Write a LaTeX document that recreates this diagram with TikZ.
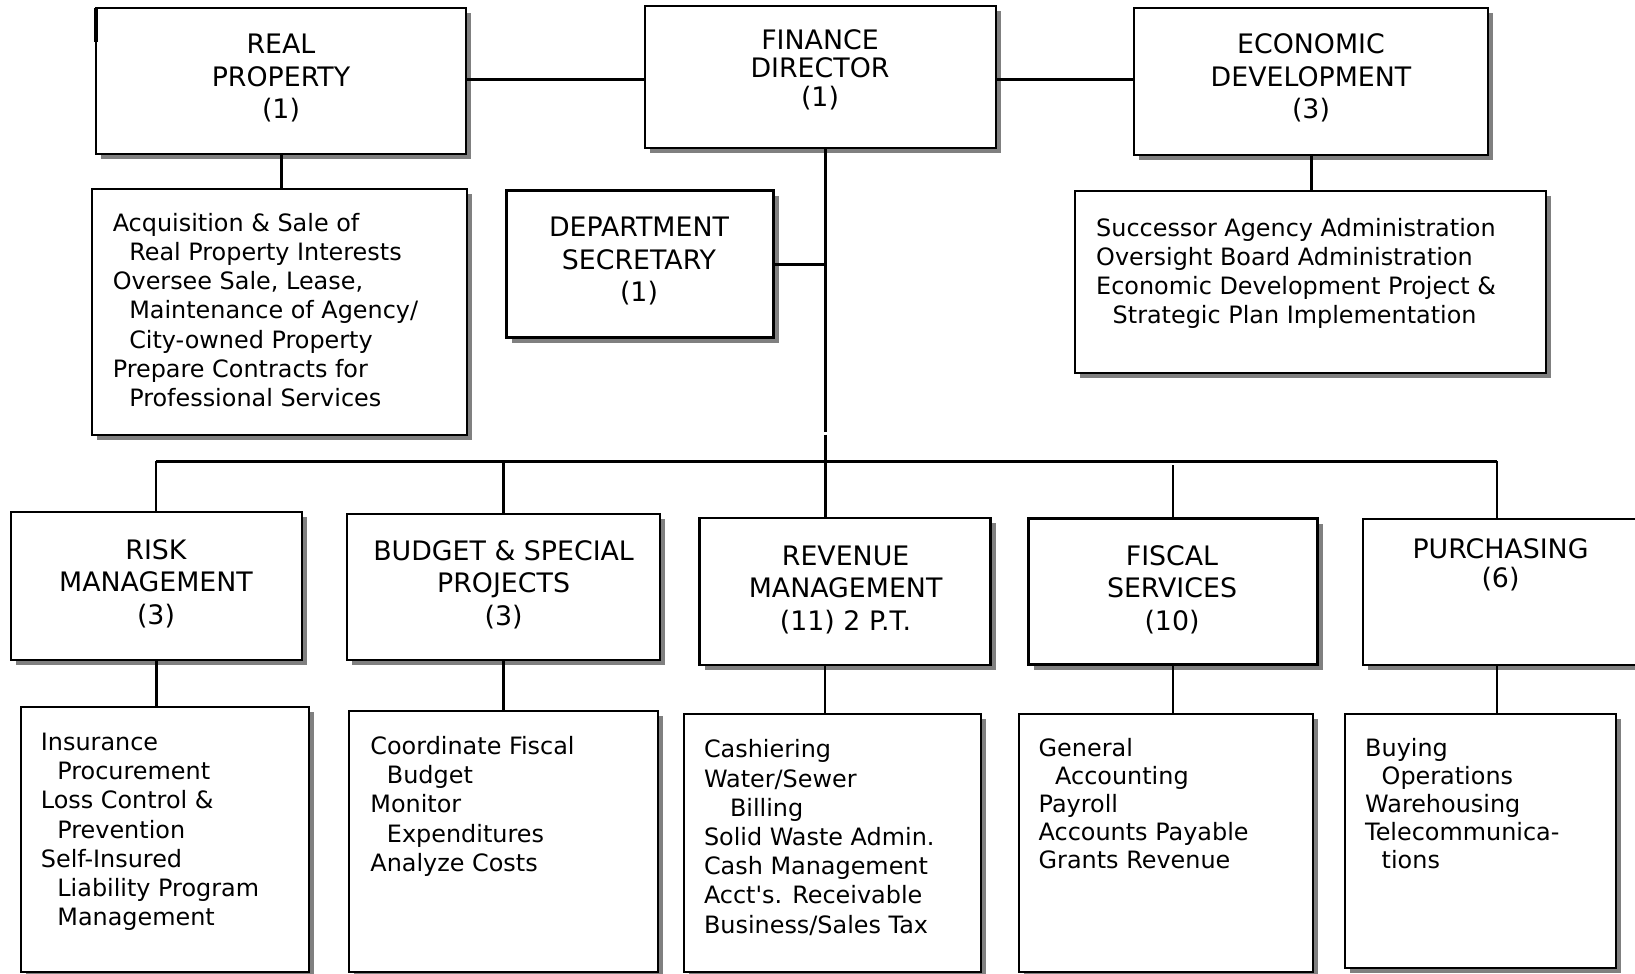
\documentclass[tikz,border=0pt]{standalone}
\usepackage{fontspec}
\setmainfont{DejaVu Sans}[Ligatures=TeXOff]
\usetikzlibrary{shadows}
\newcommand{\sublead}{\hspace*{16.5pt}}
\tikzset{
  box/.style={draw, line width=2.3pt, fill=white, inner sep=0pt, outer sep=0pt,
    drop shadow={shadow xshift=5pt, shadow yshift=-5pt, fill=gray, opacity=1}},
  link/.style={line width=3pt},
  drop/.style={line width=2.5pt},
  title/.style={anchor=base, inner sep=0pt, font=\fontsize{26.8}{32.5}\selectfont},
  tighttitle/.style={title, font=\fontsize{26.8}{27.5}\selectfont},
  body/.style={anchor=base west, inner sep=0pt, font=\fontsize{23.9}{29.2}\selectfont},
}
\begin{document}
\begin{tikzpicture}[x=1pt, y=-1pt]
\useasboundingbox (0,0) rectangle (1635,974);

% ---- top row ----
\node[box, minimum width=370, minimum height=146] (rp)  at (281,81)    {};
\node[box, minimum width=351, minimum height=142] (fin) at (820.5,77)  {};
\node[box, minimum width=354, minimum height=147] (eco) at (1311,81.5) {};

\node[title] (rpT) at (281,54)
  {\begin{tabular}[t]{@{}c@{}}REAL\\PROPERTY\\(1)\end{tabular}};
\node[tighttitle] (finT) at (820,49.5)
  {\begin{tabular}[t]{@{}c@{}}FINANCE\\DIRECTOR\\(1)\end{tabular}};
\node[title] (ecoT) at (1311,54)
  {\begin{tabular}[t]{@{}c@{}}ECONOMIC\\DEVELOPMENT\\(3)\end{tabular}};

% ---- second row ----
\node[box, minimum width=375, minimum height=246] (rpd)  at (279.5,312) {};
\node[box, minimum width=267, minimum height=147] (sec)  at (640,264)   {};
\node[box, minimum width=471, minimum height=182] (ecod) at (1310.5,282){};

\node[body] (rpdT) at (112.6,231.2)
  {\begin{tabular}[t]{@{}l@{}}Acquisition \& Sale of\\
   \sublead Real Property Interests\\
   Oversee Sale, Lease,\\
   \sublead Maintenance of Agency/\\
   \sublead City-owned Property\\
   Prepare Contracts for\\
   \sublead Professional Services\end{tabular}};
\node[title] (secT) at (639,236.5)
  {\begin{tabular}[t]{@{}c@{}}DEPARTMENT\\SECRETARY\\(1)\end{tabular}};
\node[body] (ecodT) at (1096,236.3)
  {\begin{tabular}[t]{@{}l@{}}Successor Agency Administration\\
   Oversight Board Administration\\
   Economic Development Project \&\\
   \sublead Strategic Plan Implementation\end{tabular}};

% ---- division row ----
\node[box, minimum width=291, minimum height=148] (risk) at (156.5,586)  {};
\node[box, minimum width=313, minimum height=146] (bud)  at (503.5,587)  {};
\node[box, minimum width=291, minimum height=147] (rev)  at (845,591.5)  {};
\node[box, minimum width=289, minimum height=146] (fis)  at (1173,591.5) {};
\node[box, minimum width=274, minimum height=146] (pur)  at (1500,592)   {};

\node[title] (riskT) at (156,559)
  {\begin{tabular}[t]{@{}c@{}}RISK\\MANAGEMENT\\(3)\end{tabular}};
\node[title] (budT) at (503.6,560)
  {\begin{tabular}[t]{@{}c@{}}BUDGET \& SPECIAL\\PROJECTS\\(3)\end{tabular}};
\node[title] (revT) at (845.6,565)
  {\begin{tabular}[t]{@{}c@{}}REVENUE\\MANAGEMENT\\(11) 2 P.T.\end{tabular}};
\node[title] (fisT) at (1172,565)
  {\begin{tabular}[t]{@{}c@{}}FISCAL\\SERVICES\\(10)\end{tabular}};
\node[tighttitle] (purT) at (1500.5,558.5)
  {\begin{tabular}[t]{@{}c@{}}PURCHASING\\(6)\end{tabular}};

% ---- duty boxes ----
\node[box, minimum width=288, minimum height=265] (riskd) at (165,839.5)   {};
\node[box, minimum width=309, minimum height=261] (budd)  at (503.5,841.5) {};
\node[box, minimum width=297, minimum height=258] (revd)  at (832.5,843)   {};
\node[box, minimum width=294, minimum height=258] (fisd)  at (1166,843)    {};
\node[box, minimum width=271, minimum height=254] (purd)  at (1480.5,841)  {};

\node[body] (riskdT) at (40.7,750.5)
  {\begin{tabular}[t]{@{}l@{}}Insurance\\
   \sublead Procurement\\
   Loss Control \&\\
   \sublead Prevention\\
   Self-Insured\\
   \sublead Liability Program\\
   \sublead Management\end{tabular}};
\node[body] (buddT) at (370.2,754.5)
  {\begin{tabular}[t]{@{}l@{}}Coordinate Fiscal\\
   \sublead Budget\\
   Monitor\\
   \sublead Expenditures\\
   Analyze Costs\end{tabular}};
\node[body] (revdT) at (703.8,757.8)
  {\begin{tabular}[t]{@{}l@{}}Cashiering\\
   Water/Sewer\\
   \hspace*{26pt}Billing\\
   Solid Waste Admin.\\
   Cash Management\\
   Acct's. Receivable\\
   Business/Sales Tax\end{tabular}};
\node[body, font=\fontsize{23.9}{27.9}\selectfont] (fisdT) at (1038.5,756.6)
  {\begin{tabular}[t]{@{}l@{}}General\\
   \sublead Accounting\\
   Payroll\\
   Accounts Payable\\
   Grants Revenue\end{tabular}};
\node[body, font=\fontsize{23.9}{28.2}\selectfont] (purdT) at (1365,756)
  {\begin{tabular}[t]{@{}l@{}}Buying\\
   \sublead Operations\\
   Warehousing\\
   Telecommunica-\\
   \sublead tions\end{tabular}};

% ---- connector reference points ----
\coordinate (upper) at (0,79);
\coordinate (trunkx) at (825,0);
\coordinate (gapA) at (0,432);
\coordinate (gapB) at (0,434.5);
\coordinate (bus) at (0,461);
\coordinate (busL) at (156,461);
\coordinate (busR) at (1497,461);
\coordinate (fisgap) at (0,465);

% ---- connectors ----
\draw[link] (rp.east |- upper) -- (fin.west |- upper);
\draw[link] (fin.east |- upper) -- (eco.west |- upper);
\draw[link] (rp.south) -- (rp.south |- rpd.north);
\draw[link] (eco.south) -- (eco.south |- ecod.north);
\draw[link] (sec.east) -- (sec.east -| trunkx);
\draw[link] (trunkx |- fin.south) -- (trunkx |- gapA);
\draw[link] (trunkx |- gapB) -- (trunkx |- rev.north);
\draw[link] (busL) -- (busR);
\draw[drop] (busL) -- (busL |- risk.north);
\draw[drop] (bud.north |- bus) -- (bud.north);
\draw[drop] (fis.north |- fisgap) -- (fis.north);
\draw[drop] (busR) -- (busR |- pur.north);
\draw[drop] (risk.south) -- (risk.south |- riskd.north);
\draw[drop] (bud.south) -- (bud.south |- budd.north);
\draw[drop] (trunkx |- rev.south) -- (trunkx |- revd.north);
\draw[drop] (fis.south) -- (fis.south |- fisd.north);
\draw[drop] (busR |- pur.south) -- (busR |- purd.north);

% heavier stroke on the upper left edge of the property box
\draw[line width=3.2pt] (rp.north west) -- ++(0,34);
\end{tikzpicture}
\end{document}
